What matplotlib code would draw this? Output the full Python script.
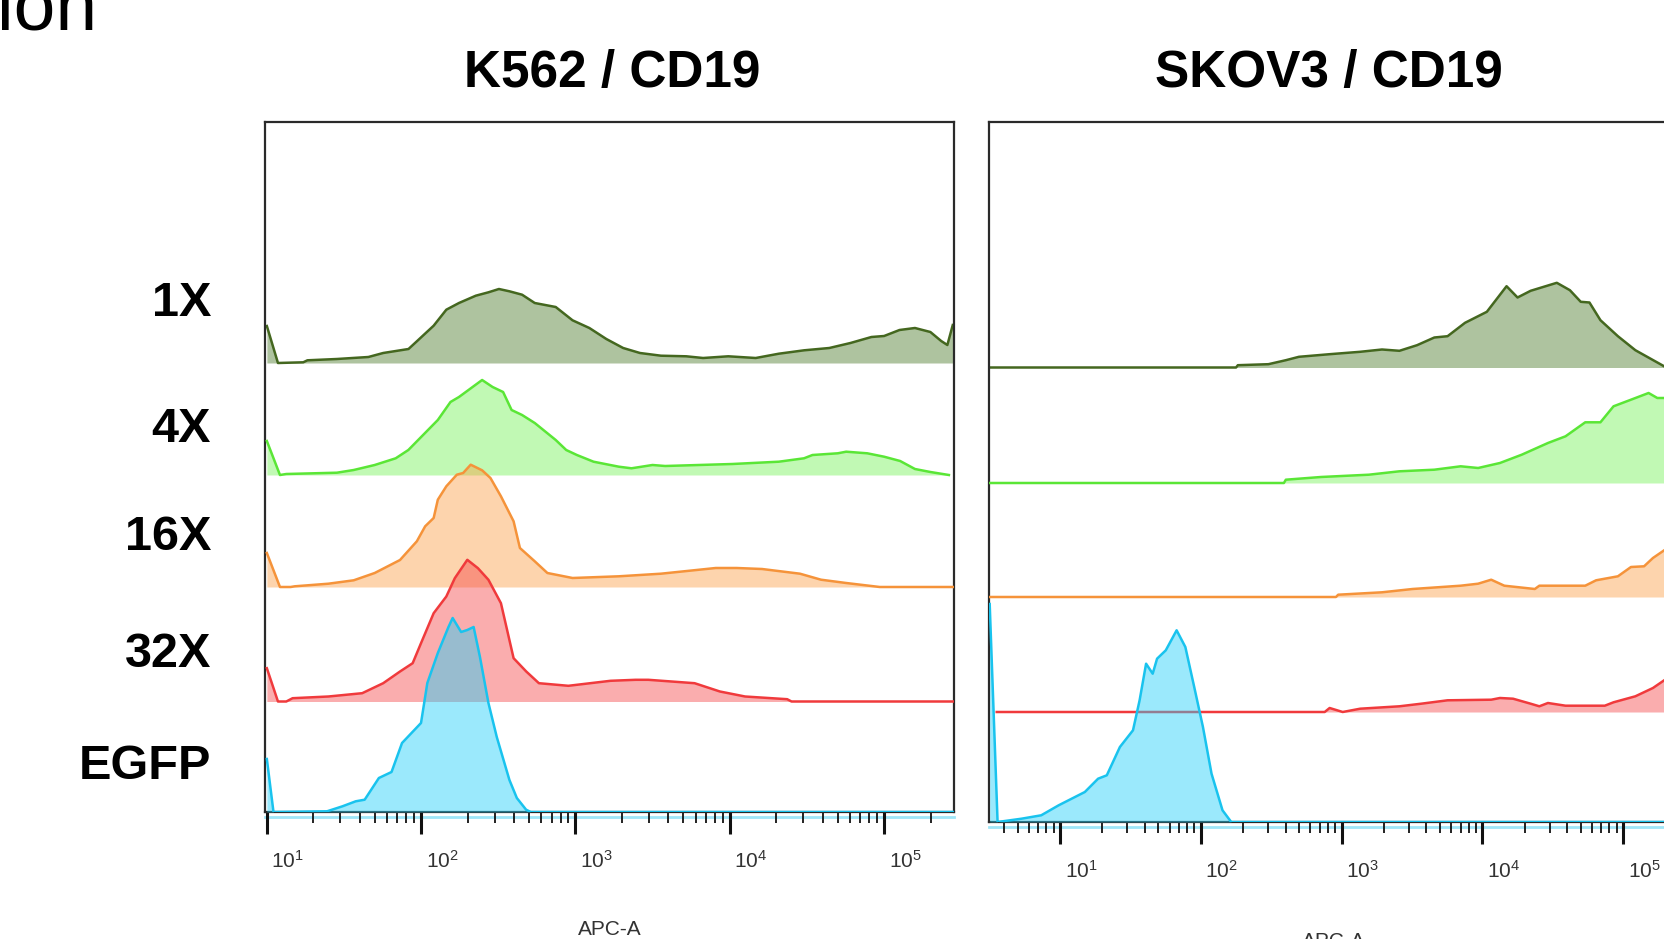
import numpy as np
import matplotlib.pyplot as plt
from matplotlib.ticker import LogLocator, NullFormatter
from matplotlib.transforms import ScaledTranslation

plt.rcParams['font.family'] = ['Liberation Sans', 'DejaVu Sans']

# row labels, top to bottom
samples = ['1X', '4X', '16X', '32X', 'EGFP']
panel_titles = ['K562 / CD19', 'SKOV3 / CD19']
decades = [1, 2, 3, 4, 5]
tick_labels = [r'$\mathregular{10^{%d}}$' % d for d in decades]

# ---- K562 / CD19 : log10(APC-A) and event counts ----
k562_1x_logx = [1.00, 1.072, 1.236, 1.263, 1.454, 1.658, 1.754, 1.918, 1.972, 2.081, 2.163,
                2.245, 2.354, 2.436, 2.504, 2.572, 2.654, 2.736, 2.872, 2.981, 3.090, 3.200,
                3.309, 3.418, 3.554, 3.718, 3.827, 3.990, 4.168, 4.318, 4.482, 4.645, 4.782,
                4.918, 5.00, 5.10, 5.20, 5.30, 5.37, 5.41, 5.445]
k562_1x_count = [37, 0, 0.7, 2.7, 4, 6, 10, 14, 21.7, 37.3, 53.3,
                 60, 67.3, 70.7, 74, 71.7, 68.3, 60, 56, 42.7, 35, 24,
                 15, 10, 7.3, 6.7, 5, 6.7, 5, 9.3, 12.7, 15, 20,
                 26, 27, 33, 35, 31, 22, 18, 38]

k562_4x_logx = [1.0, 1.085, 1.126, 1.454, 1.563, 1.699, 1.835, 1.917, 2.108, 2.190, 2.245,
                2.395, 2.463, 2.531, 2.586, 2.654, 2.736, 2.872, 2.940, 3.009, 3.117, 3.281,
                3.363, 3.499, 3.581, 4.017, 4.318, 4.481, 4.536, 4.700, 4.754, 4.891, 5.000,
                5.104, 5.20, 5.30, 5.42]
k562_4x_count = [34, 0, 1, 2.3, 5, 10, 16.7, 25, 55, 73, 78,
                 95, 88, 83, 65, 60, 52, 35, 25, 20, 13.3, 8.3,
                 6.7, 10, 9, 11, 13.3, 16.7, 20, 21.7, 23.3, 21.7, 18.3,
                 14, 6, 3, 0]

k562_16x_logx = [1.0, 1.085, 1.154, 1.181, 1.399, 1.563, 1.699, 1.863, 1.972, 2.026, 2.081,
                 2.108, 2.163, 2.231, 2.272, 2.321, 2.395, 2.449, 2.517, 2.599, 2.640, 2.736,
                 2.818, 2.981, 3.281, 3.554, 3.909, 4.045, 4.209, 4.455, 4.591, 4.754, 4.972,
                 5.45]
k562_16x_count = [34, 0, 0, 0.7, 3.3, 6.7, 14, 27, 45.7, 60.7, 69,
                  87.3, 100.7, 112.3, 114, 122.3, 116.7, 109, 90.7, 65.7, 39, 25.7,
                  14, 9, 10.7, 13.3, 19, 19, 18, 13.3, 7.3, 4, 0,
                  0]

k562_32x_logx = [1.0, 1.072, 1.126, 1.167, 1.399, 1.618, 1.754, 1.863, 1.945, 1.999, 2.081,
                 2.163, 2.218, 2.299, 2.368, 2.436, 2.517, 2.599, 2.681, 2.763, 2.954, 3.227,
                 3.390, 3.472, 3.772, 3.936, 4.099, 4.372, 4.400, 5.45]
k562_32x_count = [33.3, 0, 0, 3.3, 5, 8.3, 18.3, 30, 38.3, 58.3, 88.3,
                  105, 123.3, 141.7, 133.3, 121.7, 98.3, 43.3, 30, 18.3, 15.7, 20.7,
                  21.7, 21.7, 18.3, 10, 5, 2.3, 0, 0]

k562_egfp_logx = [1.0, 1.043, 1.39, 1.49, 1.576, 1.634, 1.726, 1.808, 1.876, 1.999, 2.040,
                  2.108, 2.177, 2.204, 2.259, 2.299, 2.340, 2.381, 2.436, 2.490, 2.572, 2.62,
                  2.68, 2.71, 5.45]
k562_egfp_count = [53, 0, 0.7, 5.7, 10.7, 12.3, 34, 40, 69, 89, 129,
                   159, 185, 194, 180, 182, 185, 155, 109, 75, 32, 14,
                   2.3, 0, 0]

# ---- SKOV3 / CD19 ----
skov3_1x_logx = [0.5, 2.25, 2.263, 2.480, 2.604, 2.697, 2.915, 3.132, 3.287, 3.411, 3.536,
                 3.659, 3.753, 3.877, 4.032, 4.172, 4.250, 4.343, 4.529, 4.622, 4.699, 4.761,
                 4.839, 4.963, 5.087, 5.298, 5.39]
skov3_1x_count = [0, 0, 2.3, 3.3, 7.3, 10.7, 13.3, 15.7, 18, 16.7, 22.3,
                  30, 31.3, 44.7, 55.7, 81.3, 70, 76.7, 84.7, 77.3, 65.7, 65,
                  47.3, 31.3, 17.3, 0.7, 0]

skov3_4x_logx = [0.5, 2.59, 2.604, 2.853, 3.194, 3.411, 3.659, 3.846, 3.970, 4.125, 4.280,
                 4.466, 4.591, 4.731, 4.839, 4.932, 5.056, 5.181, 5.243, 5.298, 5.39]
skov3_4x_count = [0, 0, 3.3, 6, 8.3, 11.7, 13.3, 16.7, 15, 20, 28.3,
                  40, 46.7, 60.7, 60.7, 76.7, 83.3, 90, 85, 85, 78]

skov3_16x_logx = [0.5, 2.96, 2.976, 3.287, 3.504, 3.846, 3.970, 4.063, 4.156, 4.373, 4.405,
                  4.731, 4.808, 4.963, 5.056, 5.149, 5.212, 5.298, 5.39]
skov3_16x_count = [0, 0, 2.3, 4.7, 8, 11.3, 13.3, 17.3, 11.3, 8, 11.3,
                   11.3, 16.7, 20.7, 30, 30.7, 39, 47.3, 56]

skov3_32x_logx = [0.55, 2.88, 2.915, 3.008, 3.132, 3.411, 3.566, 3.753, 4.063, 4.125, 4.218,
                  4.343, 4.405, 4.466, 4.591, 4.870, 4.932, 5.087, 5.212, 5.298, 5.39]
skov3_32x_count = [0, 0, 4, 0, 3.3, 5.7, 8.3, 11.7, 12.3, 14, 13.3,
                   8.3, 5.7, 9, 6.3, 6.3, 9.7, 15.7, 24, 32.3, 42]

skov3_egfp_logx = [0.5, 0.556, 0.726, 0.866, 0.990, 1.176, 1.270, 1.332, 1.425, 1.518, 1.565,
                   1.611, 1.658, 1.689, 1.751, 1.828, 1.890, 1.953, 2.015, 2.076, 2.154, 2.216,
                   5.39]
skov3_egfp_count = [218, 0, 3.3, 6.7, 16.7, 30, 43.3, 46.7, 75, 91.7, 121.7,
                    158.3, 148.3, 163.3, 171.7, 191.7, 175, 135, 95, 48.3, 11.7, 0,
                    0]

k562_series = [(k562_1x_logx, k562_1x_count), (k562_4x_logx, k562_4x_count),
               (k562_16x_logx, k562_16x_count), (k562_32x_logx, k562_32x_count),
               (k562_egfp_logx, k562_egfp_count)]
skov3_series = [(skov3_1x_logx, skov3_1x_count), (skov3_4x_logx, skov3_4x_count),
                (skov3_16x_logx, skov3_16x_count), (skov3_32x_logx, skov3_32x_count),
                (skov3_egfp_logx, skov3_egfp_count)]

line_colors = ['#44671f', '#5ae636', '#f5933a', '#f03a3c', '#19c3ee']
fill_colors = ['#4d7a2a', '#66f244', '#fb9a3c', '#f53d40', '#22cff9']
fill_alphas = [0.45, 0.40, 0.42, 0.42, 0.45]

# layout (pixels)
W, H = 1665, 939
fig = plt.figure(figsize=(W / 100, H / 100), dpi=100)


def draw_panel(ax, series, offsets, xlim_log, height):
    for i, (lx, cnt) in enumerate(series):
        x = 10 ** np.array(lx)
        y = np.array(cnt) + offsets[i]
        ax.fill_between(x, offsets[i], y, color=fill_colors[i], alpha=fill_alphas[i],
                        linewidth=0, zorder=2 + i)
        ax.plot(x, y, color=line_colors[i], lw=1.8, zorder=2 + i)
    ax.axhline(-5, color='#9fe6f8', lw=2, clip_on=False, zorder=1)
    ax.set_xscale('log')
    ax.set_xlim(10 ** xlim_log[0], 10 ** xlim_log[1])
    ax.set_ylim(0, height)
    ax.set_yticks([])
    ax.set_xticks([10 ** d for d in decades])
    ax.set_xticklabels(tick_labels)
    ax.xaxis.set_minor_locator(LogLocator(base=10, subs=np.arange(2, 10)))
    ax.xaxis.set_minor_formatter(NullFormatter())
    ax.tick_params(axis='x', which='major', direction='out', length=16, width=2.2,
                   color='#111111', pad=11, labelsize=15, labelcolor='#333333')
    ax.tick_params(axis='x', which='minor', direction='out', length=8, width=1.3,
                   color='#111111')
    offset = ScaledTranslation(21 / 100, 0, fig.dpi_scale_trans)
    for lab in ax.get_xticklabels():
        lab.set_transform(lab.get_transform() + offset)
    for sp in ax.spines.values():
        sp.set_linewidth(1.6)
        sp.set_color('#2a2a2a')
    ax.set_xlabel('APC-A', fontsize=15, color='#333333')


ax_l = fig.add_axes([265 / W, 1 - 812 / H, 689 / W, 690 / H])
draw_panel(ax_l, k562_series, [449, 337, 225, 110.5, 0], (0.988, 5.453), 690)
ax_l.xaxis.set_label_coords(0.5, -0.156)

ax_r = fig.add_axes([989 / W, 1 - 822 / H, 689 / W, 700 / H])
draw_panel(ax_r, skov3_series, [454.5, 339, 225, 110, 0], (0.495, 5.39), 700)
ax_r.xaxis.set_label_coords(0.5, -0.157)

# titles
fig.text(612 / W, 1 - 87 / H, panel_titles[0], fontsize=37, fontweight='bold',
         ha='center', va='baseline')
fig.text(1329 / W, 1 - 87 / H, panel_titles[1], fontsize=37, fontweight='bold',
         ha='center', va='baseline')

# row labels
for name, yb in zip(samples, [316, 442, 550, 667, 779]):
    fig.text(211 / W, 1 - yb / H, name, fontsize=35, fontweight='bold',
             ha='right', va='baseline')

# tail of a heading cut off by the crop
fig.text(-0.002, 1 - 30 / H, 'ion', fontsize=54, ha='left', va='baseline')

fig.savefig('out.png', dpi=100)
